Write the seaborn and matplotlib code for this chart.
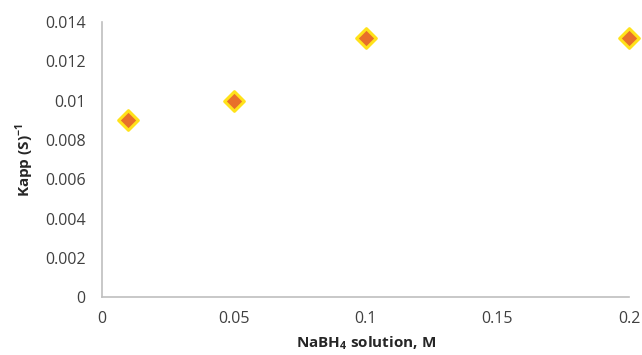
import matplotlib
matplotlib.use("Agg")
import matplotlib.pyplot as plt
import seaborn as sns
import pandas as pd

conc = [0.01, 0.05, 0.1, 0.2]
kapp = [0.009, 0.010, 0.0132, 0.0132]
xticks = [0, 0.05, 0.1, 0.15, 0.2]
xticklabels = ["0", "0.05", "0.1", "0.15", "0.2"]
yticks = [0, 0.002, 0.004, 0.006, 0.008, 0.01, 0.012, 0.014]
yticklabels = ["0", "0.002", "0.004", "0.006", "0.008", "0.01", "0.012", "0.014"]

sns.set_style("white")
plt.rcParams['font.family'] = ['Open Sans', 'DejaVu Sans']
plt.rcParams['mathtext.fontset'] = 'custom'
plt.rcParams['mathtext.rm'] = 'Open Sans'
plt.rcParams['mathtext.bf'] = 'Open Sans:bold'

df = pd.DataFrame({"conc": conc, "kapp": kapp})
fig = plt.figure(figsize=(6.42, 3.55), dpi=100)
ax = fig.add_axes([0.159, 0.163, 0.821, 0.775])
sns.scatterplot(data=df, x="conc", y="kapp", ax=ax, marker="D", s=100,
                color="#e8702a", edgecolor="#ffe21a", linewidth=2.2, zorder=3, clip_on=False)
ax.set_xlim(0, 0.2)
ax.set_ylim(0, 0.014)
ax.set_xticks(xticks)
ax.set_xticklabels(xticklabels)
ax.set_yticks(yticks)
ax.set_yticklabels(yticklabels)
ax.tick_params(axis='y', length=0, labelsize=11.5, colors="#404040", pad=12)
ax.tick_params(axis='x', length=0, labelsize=11.5, colors="#404040", pad=10)
for s in ["top", "right"]:
    ax.spines[s].set_visible(False)
for s in ["left", "bottom"]:
    ax.spines[s].set_color("#bfbfbf")
    ax.spines[s].set_linewidth(1.2)
ax.set_xlabel("NaBH$_\\mathbf{4}$ solution, M", fontsize=11, fontweight="bold", labelpad=5)
ax.set_ylabel("Kapp (S)$^\\mathbf{-1}$", fontsize=11, fontweight="bold", labelpad=6)
fig.savefig("out.png", dpi=100)
